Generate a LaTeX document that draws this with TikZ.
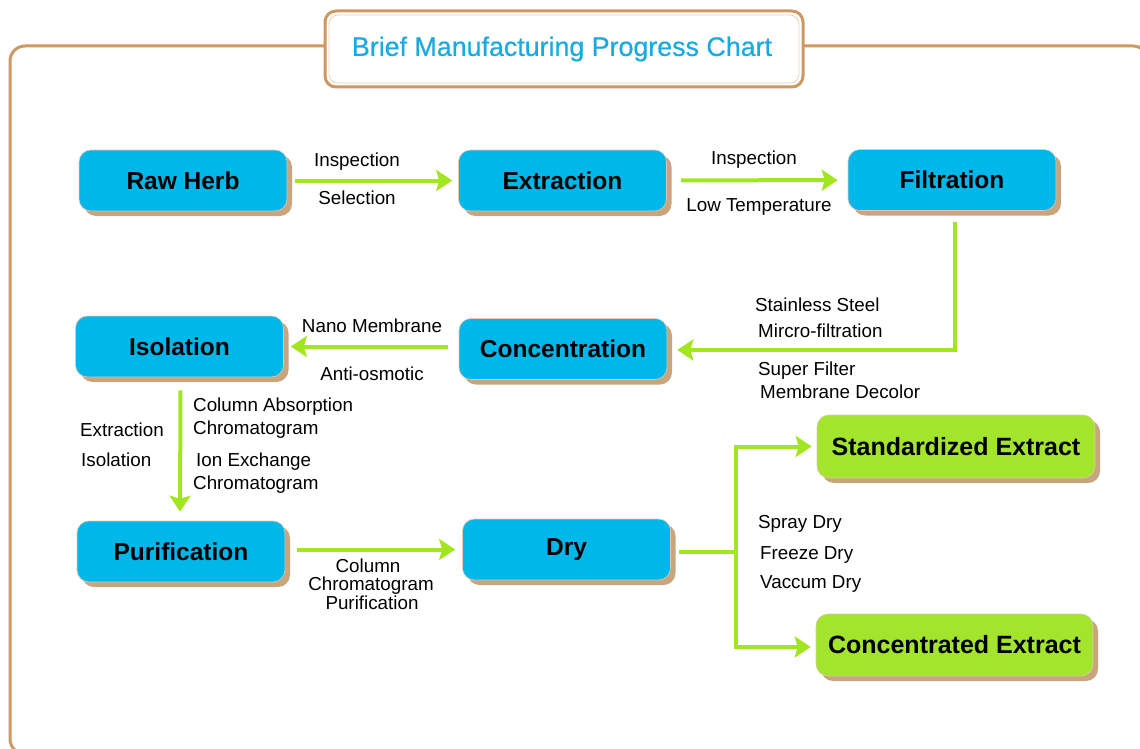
\documentclass[tikz,border=0pt]{standalone}
\usepackage{fontspec}
\setmainfont{Liberation Sans}
\newfontfamily\titlefont[FakeBold=0.5]{Liberation Sans}
\usetikzlibrary{arrows.meta,shadows}
\definecolor{boxblue}{RGB}{0,183,234}
\definecolor{boxgreen}{RGB}{163,228,44}
\definecolor{arrgreen}{RGB}{162,230,32}
\definecolor{frametan}{RGB}{205,152,98}
\definecolor{shadowtan}{RGB}{200,165,125}
\definecolor{titleblue}{RGB}{25,170,228}
\tikzset{
  x=1pt, y=-1pt,
  procbox/.style={rounded corners=12pt, minimum width=208pt, minimum height=61pt,
    draw=shadowtan!60, line width=0.6pt, fill=boxblue, inner sep=0pt,
    font=\fontsize{24.5}{28}\selectfont\bfseries,
    drop shadow={shadow xshift=5pt, shadow yshift=-5pt, fill=shadowtan, opacity=1}},
  prodbox/.style={procbox, fill=boxgreen, minimum width=278pt, minimum height=63pt,
    font=\fontsize{25}{28}\selectfont\bfseries},
  lbl/.style={inner sep=0pt, font=\fontsize{18.8}{20}\selectfont, text height=0.72em, text depth=0pt, yshift=-3pt},
  flow/.style={draw=arrgreen, line width=4pt},
  arr/.style={flow, -{Stealth[length=16pt,width=21pt,inset=3pt]}},
}
\begin{document}
\begin{tikzpicture}
\useasboundingbox (0,0) rectangle (1140,749);
% outer frame
\draw[frametan, line width=3pt, rounded corners=15pt] (10,46) rectangle (1148,754);
% title box
\draw[frametan, line width=3pt, fill=white, rounded corners=11pt] (325,11) rectangle (803,87);
\draw[frametan!45, line width=0.8pt, rounded corners=9pt] (329,15) rectangle (799,83);
\node[inner sep=0pt, text=titleblue, font=\titlefont\fontsize{26.8}{30}\selectfont] (title) at (562,49) {Brief Manufacturing Progress Chart};

% process boxes
\node[procbox] (raw) at (183,180.5) {Raw Herb};
\node[procbox] (ext) at (562.5,180.5) {Extraction};
\node[procbox] (fil) at (952,180) {Filtration};
\node[procbox] (iso) at (179.5,346.5) {Isolation};
\node[procbox] (con) at (563,349) {Concentration};
\node[procbox] (pur) at (181,551.5) {Purification};
\node[procbox] (dry) at (566.5,549.5) {Dry};
\node[prodbox] (std) at (956,446.5) {Standardized Extract};
\node[prodbox, minimum width=277pt, minimum height=62pt] (cnc) at (954.5,645) {Concentrated Extract};

% connectors
\draw[arr, shorten <=8pt, shorten >=6pt] (raw) -- (ext);
\draw[arr, shorten <=14pt, shorten >=10pt] (ext) -- (fil);
\draw[arr] ([xshift=3pt,yshift=-11pt]fil.south) |- ([xshift=10pt,yshift=-1pt]con.east);
\draw[arr, shorten <=11pt, shorten >=7pt] (con.west |- iso) -- (iso);
\draw[arr] ([xshift=1pt,yshift=-13pt]iso.south) -- ([xshift=-1pt,yshift=9pt]pur.north);
\draw[arr, shorten <=12pt, shorten >=7pt] (pur.east |- dry) -- (dry);
\coordinate (split) at (736,552);
\draw[flow] ([xshift=8pt]dry.east |- split) -- (split);
\draw[arr] (split) |- ([xshift=-5pt]std.west);
\draw[arr] (split) |- ([xshift=-5pt,yshift=-2pt]cnc.west);

% labels
\node[lbl] (l1) at (357,160) {Inspection};
\node[lbl] (l2) at (357,198) {Selection};
\node[lbl] (l3) at (754,158) {Inspection};
\node[lbl] (l4) at (759,205) {Low Temperature};
\node[lbl, anchor=west] (l5) at (755,305) {Stainless Steel};
\node[lbl, anchor=west] (l6) at (758,331) {Mircro-filtration};
\node[lbl, anchor=west] (l7) at (758,369) {Super Filter};
\node[lbl, anchor=west] (l8) at (760,392) {Membrane Decolor};
\node[lbl] (l9) at (372,326) {Nano Membrane};
\node[lbl] (l10) at (372,374) {Anti-osmotic};
\node[lbl, anchor=west] (l11) at (80,430) {Extraction};
\node[lbl, anchor=west] (l12) at (81,460) {Isolation};
\node[lbl, anchor=west] (l13) at (193,405) {Column Absorption};
\node[lbl, anchor=west] (l14) at (193,428) {Chromatogram};
\node[lbl, anchor=west] (l15) at (196,460) {Ion Exchange};
\node[lbl, anchor=west] (l16) at (193,483) {Chromatogram};
\node[lbl] (l17) at (368,566) {Column};
\node[lbl] (l18) at (371,584) {Chromatogram};
\node[lbl] (l19) at (372,603) {Purification};
\node[lbl, anchor=west] (l20) at (758,522) {Spray Dry};
\node[lbl, anchor=west] (l21) at (760,553) {Freeze Dry};
\node[lbl, anchor=west] (l22) at (760,582) {Vaccum Dry};
\end{tikzpicture}
\end{document}
